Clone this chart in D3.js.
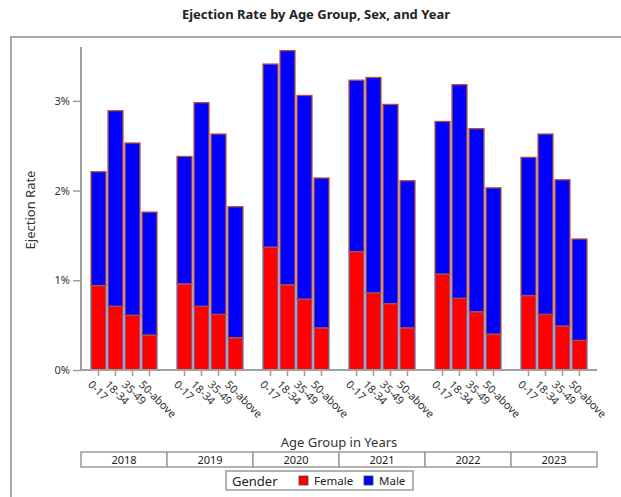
<!DOCTYPE html>
<html><head><meta charset="utf-8">
<script src="https://cdn.jsdelivr.net/npm/d3@7"></script>
<style>body{margin:0;background:#fff}svg{display:block;font-family:"Noto Sans",sans-serif}</style>
</head><body><svg id="c" width="621" height="497"></svg>
<script>
const years = ["2018","2019","2020","2021","2022","2023"];
const ageGroups = ["0-17","18-34","35-49","50-above"];
const female = [
  [0.94,0.71,0.61,0.39],
  [0.96,0.71,0.62,0.36],
  [1.37,0.95,0.79,0.47],
  [1.32,0.86,0.74,0.47],
  [1.07,0.80,0.65,0.40],
  [0.83,0.62,0.49,0.33]
];
const male = [
  [1.27,2.18,1.92,1.37],
  [1.42,2.27,2.01,1.46],
  [2.04,2.61,2.27,1.67],
  [1.91,2.40,2.22,1.64],
  [1.70,2.38,2.04,1.63],
  [1.54,2.01,1.63,1.13]
];
const yTicks = [0,1,2,3];
const genders = ["Female","Male"];

const svg = d3.select("#c");
const L=81, R=597, T=47, B=370;
const y = d3.scaleLinear().domain([0,3.6]).range([B,T]);
const xYear = d3.scaleBand().domain(years).range([L,R]);
const xAge = d3.scaleBand().domain(ageGroups).range([0,xYear.bandwidth()]).paddingInner(0.12).paddingOuter(0.59);
const color = d3.scaleOrdinal().domain(genders).range(["#ff0000","#0000ff"]);
const strokeC = d3.scaleOrdinal().domain(genders).range(["#6d6fa6","#b4503a"]);

// frame
svg.append("path").attr("d","M11,497V37H621").attr("fill","none").attr("stroke","#a8a8a8").attr("stroke-width",2);

// title
svg.append("text").attr("x",316).attr("y",19).attr("text-anchor","middle")
  .attr("font-size",13).attr("font-weight","bold").attr("fill","#222").text("Ejection Rate by Age Group, Sex, and Year");

// bars
const rows=[];
years.forEach((yr,i)=>ageGroups.forEach((ag,j)=>{
  rows.push({yr,ag,g:"Female",y0:0,y1:female[i][j]});
  rows.push({yr,ag,g:"Male",y0:female[i][j],y1:female[i][j]+male[i][j]});
}));
svg.append("g").selectAll("rect").data(rows).join("rect")
  .attr("x",d=>xYear(d.yr)+xAge(d.ag))
  .attr("width",xAge.bandwidth())
  .attr("y",d=>y(d.y1))
  .attr("height",d=>y(d.y0)-y(d.y1))
  .attr("fill",d=>color(d.g))
  .attr("stroke",d=>strokeC(d.g))
  .attr("stroke-width",1.3);

// y axis
const ya = svg.append("g").attr("transform",`translate(${L},0)`)
  .call(d3.axisLeft(y).tickValues(yTicks).tickFormat(d=>d+"%").tickSize(8).tickPadding(3));
ya.select(".domain").attr("d",`M0,${T}V${B}`).attr("stroke","#a0a0a0").attr("stroke-width",2);
ya.selectAll(".tick line").attr("stroke","#a0a0a0").attr("stroke-width",1.5);
ya.selectAll(".tick text").attr("font-size",11).attr("fill","#333").attr("font-family","Noto Sans");

// x axis
const xg = svg.append("g").attr("transform",`translate(0,${B})`);
xg.append("line").attr("x1",L).attr("x2",R).attr("stroke","#a0a0a0").attr("stroke-width",2);
years.forEach(yr=>{
  const g = xg.append("g").attr("transform",`translate(${xYear(yr)},0)`);
  const ax = d3.axisBottom(xAge).tickSize(6).tickSizeOuter(0);
  g.call(ax);
  g.select(".domain").remove();
  g.selectAll(".tick line").attr("stroke","#a0a0a0").attr("stroke-width",1.5);
  g.selectAll(".tick text").attr("font-size",11).attr("fill","#333").attr("font-family","Noto Sans")
    .attr("text-anchor","start").attr("transform","translate(-5,9) rotate(45)").attr("y",5).attr("dy","0.35em").attr("x",0);
});

// axis titles
svg.append("text").attr("transform","translate(35,210) rotate(-90)").attr("text-anchor","middle")
  .attr("font-size",13).attr("fill","#333").text("Ejection Rate");
svg.append("text").attr("x",(L+R)/2).attr("y",447).attr("text-anchor","middle")
  .attr("font-size",13).attr("fill","#333").text("Age Group in Years");

// year strip
const strip = svg.append("g");
years.forEach(yr=>{
  strip.append("rect").attr("x",xYear(yr)).attr("y",452).attr("width",xYear.bandwidth()).attr("height",15)
    .attr("fill","#fff").attr("stroke","#a0a0a0").attr("stroke-width",1.6);
  strip.append("text").attr("x",xYear(yr)+xYear.bandwidth()/2).attr("y",464).attr("text-anchor","middle")
    .attr("font-size",11).attr("fill","#222").text(yr);
});

// legend
const lg = svg.append("g");
lg.append("rect").attr("x",226).attr("y",471).attr("width",187).attr("height",19).attr("fill","#fff").attr("stroke","#a0a0a0").attr("stroke-width",1.6);
lg.append("text").attr("x",232).attr("y",486).attr("font-size",13).attr("fill","#222").text("Gender");
const lx = {Female:299, Male:364};
genders.forEach(g=>{
  lg.append("rect").attr("x",lx[g]).attr("y",476).attr("width",9).attr("height",9).attr("fill",color(g)).attr("stroke","#444").attr("stroke-width",0.8);
  lg.append("text").attr("x",lx[g]+15).attr("y",485).attr("font-size",11.5).attr("fill","#222").text(g);
});
</script></body></html>
